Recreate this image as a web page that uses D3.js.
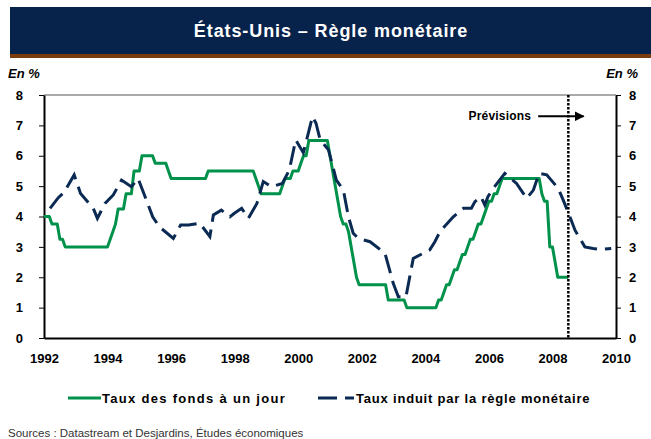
<!DOCTYPE html>
<html>
<head>
<meta charset="utf-8">
<script src="https://cdn.jsdelivr.net/npm/d3@7"></script>
<style>
body { margin: 0; background: #fff; }
svg { display: block; font-family: "Liberation Sans", Arial, sans-serif; }
</style>
</head>
<body>
<script>
//Taux des fonds fédéraux, valeurs mensuelles (janvier à décembre)
var annees = [1992, 1993, 1994, 1995, 1996, 1997, 1998, 1999, 2000,
              2001, 2002, 2003, 2004, 2005, 2006, 2007, 2008];
var tauxFonds = [
    [4, 4, 4, 3.75, 3.75, 3.75, 3.25, 3.25, 3, 3, 3, 3],
    [3, 3, 3, 3, 3, 3, 3, 3, 3, 3, 3, 3],
    [3, 3.25, 3.5, 3.75, 4.25, 4.25, 4.25, 4.75, 4.75, 4.75, 5.5, 5.5],
    [5.5, 6, 6, 6, 6, 6, 5.75, 5.75, 5.75, 5.75, 5.75, 5.5],
    [5.25, 5.25, 5.25, 5.25, 5.25, 5.25, 5.25, 5.25, 5.25, 5.25, 5.25, 5.25],
    [5.25, 5.25, 5.5, 5.5, 5.5, 5.5, 5.5, 5.5, 5.5, 5.5, 5.5, 5.5],
    [5.5, 5.5, 5.5, 5.5, 5.5, 5.5, 5.5, 5.5, 5.25, 5, 4.75, 4.75],
    [4.75, 4.75, 4.75, 4.75, 4.75, 4.75, 5, 5.25, 5.25, 5.25, 5.5, 5.5],
    [5.5, 5.75, 6, 6, 6.5, 6.5, 6.5, 6.5, 6.5, 6.5, 6.5, 6.5],
    [6, 5.5, 5, 4.5, 4, 3.75, 3.75, 3.5, 3, 2.5, 2, 1.75],
    [1.75, 1.75, 1.75, 1.75, 1.75, 1.75, 1.75, 1.75, 1.75, 1.75, 1.25, 1.25],
    [1.25, 1.25, 1.25, 1.25, 1.25, 1, 1, 1, 1, 1, 1, 1],
    [1, 1, 1, 1, 1, 1.25, 1.25, 1.5, 1.75, 1.75, 2, 2.25],
    [2.25, 2.5, 2.75, 2.75, 3, 3.25, 3.25, 3.5, 3.75, 3.75, 4, 4.25],
    [4.5, 4.5, 4.75, 4.75, 5, 5.25, 5.25, 5.25, 5.25, 5.25, 5.25, 5.25],
    [5.25, 5.25, 5.25, 5.25, 5.25, 5.25, 5.25, 5.25, 4.75, 4.5, 4.5, 3],
    [3, 2.5, 2, 2, 2, 2, 2]
];

//Taux induit par la règle monétaire (date en année décimale)
var regleDates = [1992.19, 1992.45, 1992.62, 1992.95, 1993.15, 1993.55, 1993.68, 1993.92,
    1994.18, 1994.44, 1994.75, 1994.96, 1995.2, 1995.42, 1995.63, 1996.07, 1996.3, 1996.55,
    1996.9, 1997.22, 1997.33, 1997.58, 1997.85, 1997.98, 1998.22, 1998.43, 1998.7, 1998.9,
    1999.16, 1999.5, 1999.72, 1999.92, 2000.16, 2000.27, 2000.45, 2000.56, 2000.69, 2000.95,
    2001.2, 2001.42, 2001.58, 2001.73, 2001.89, 2002.26, 2002.73, 2002.99, 2003.15, 2003.39,
    2003.62, 2004.14, 2004.3, 2004.46, 2004.88, 2005.2, 2005.45, 2005.56, 2005.75, 2005.87,
    2005.97, 2006.14, 2006.5, 2006.87, 2007.19, 2007.4, 2007.58, 2007.82, 2008.18, 2008.34,
    2008.55, 2008.71, 2009.02, 2009.28, 2009.5, 2009.85];
var regleValeurs = [4.27, 4.62, 4.78, 5.37, 4.76, 4.27, 3.94, 4.43,
    4.71, 5.2, 4.98, 5.25, 4.6, 3.99, 3.66, 3.28, 3.72, 3.72,
    3.78, 3.34, 4.05, 4.21, 3.99, 4.1, 4.27, 3.94, 4.43, 5.15,
    4.98, 5.09, 5.53, 6.52, 6.1, 6.55, 7.29, 7.07, 6.52, 6.2,
    5.2, 4.87, 3.99, 3.45, 3.28, 3.17, 2.79, 1.8, 1.36, 1.36,
    2.62, 2.9, 3.17, 3.5, 3.99, 4.27, 4.27, 4.49, 4.65, 4.38,
    4.65, 4.93, 5.42, 5.09, 4.6, 4.87, 5.42, 5.37, 4.93, 4.54,
    3.99, 3.55, 3, 2.95, 2.92, 2.95];

var ticksX = [1992, 1994, 1996, 1998, 2000, 2002, 2004, 2006, 2008, 2010];
var ticksY = [0, 1, 2, 3, 4, 5, 6, 7, 8];
var debutPrevisions = 2008.5;

var larg = 651;
var haut = 439;
var vert = "#00924a";
var marine = "#0b2a53";

var svg = d3.select("body")
    .append("svg")
    .attr("width", larg)
    .attr("height", haut);

//Bandeau du titre
svg.append("rect").attr("x", 10).attr("y", 7).attr("width", larg - 10).attr("height", 47)
    .attr("fill", "#08234b");
svg.append("rect").attr("x", 10).attr("y", 54).attr("width", larg - 10).attr("height", 4)
    .attr("fill", "#7b3d0e");
svg.append("text")
    .attr("x", 331).attr("y", 37)
    .attr("text-anchor", "middle")
    .attr("fill", "white")
    .attr("font-size", "18px")
    .attr("font-weight", "bold")
    .attr("letter-spacing", "0.9px")
    .text("États-Unis – Règle monétaire");

//Echelles
var x = d3.scaleLinear().domain([1992, 2010]).range([44, 616]);
var y = d3.scaleLinear().domain([0, 8]).range([338, 95]);

//Cadre du haut
svg.append("line")
    .attr("x1", x(1992)).attr("x2", x(2010))
    .attr("y1", y(8)).attr("y2", y(8))
    .attr("stroke", "#555").attr("stroke-width", 1);

//Axes
var axeG = svg.append("g").attr("transform", "translate(" + x(1992) + ",0)")
    .call(d3.axisLeft(y).tickValues(ticksY).tickSize(5).tickSizeOuter(0).tickPadding(16));
var axeD = svg.append("g").attr("transform", "translate(" + x(2010) + ",0)")
    .call(d3.axisRight(y).tickValues(ticksY).tickSize(5).tickSizeOuter(0).tickPadding(8));
var axeB = svg.append("g").attr("transform", "translate(0," + y(0) + ")")
    .call(d3.axisBottom(x).tickValues(ticksX).tickFormat(d3.format("d"))
        .tickSize(0).tickSizeOuter(0).tickPadding(16));

[axeG, axeD, axeB].forEach(function(a) {
    a.select(".domain").attr("stroke", "#000").attr("stroke-width", 2);
    a.selectAll(".tick line").attr("stroke", "#000").attr("stroke-width", 1);
    a.selectAll("text")
        .attr("font-family", "'Liberation Sans', Arial, sans-serif")
        .attr("font-size", "13px")
        .attr("font-weight", "bold")
        .attr("fill", "#000");
});

//Unités
svg.append("text").attr("x", 8).attr("y", 78)
    .attr("font-size", "13px").attr("font-weight", "bold").attr("font-style", "italic")
    .text("En %");
svg.append("text").attr("x", 638).attr("y", 78).attr("text-anchor", "end")
    .attr("font-size", "13px").attr("font-weight", "bold").attr("font-style", "italic")
    .text("En %");

//Points mensuels du taux des fonds
var fonds = [];
annees.forEach(function(an, i) {
    tauxFonds[i].forEach(function(v, m) {
        fonds.push({ t: an + m / 12, v: v });
    });
});
var regle = regleDates.map(function(t, i) {
    return { t: t, v: regleValeurs[i] };
});

var ligne = d3.line()
    .x(function(d) { return x(d.t); })
    .y(function(d) { return y(d.v); });

svg.append("path")
    .datum(fonds)
    .attr("d", ligne)
    .attr("fill", "none")
    .attr("stroke", vert)
    .attr("stroke-width", 3)
    .attr("stroke-linejoin", "round");

svg.append("path")
    .datum(regle)
    .attr("d", ligne)
    .attr("fill", "none")
    .attr("stroke", marine)
    .attr("stroke-width", 3)
    .attr("stroke-dasharray", "19,8");

//Ligne des prévisions
svg.append("line")
    .attr("x1", x(debutPrevisions)).attr("x2", x(debutPrevisions))
    .attr("y1", y(8)).attr("y2", y(0))
    .attr("stroke", "#000").attr("stroke-width", 2.5)
    .attr("stroke-dasharray", "2.5,1.5");

svg.append("defs").append("marker")
    .attr("id", "fleche")
    .attr("viewBox", "0 0 10 10")
    .attr("refX", 9).attr("refY", 5)
    .attr("markerWidth", 5).attr("markerHeight", 5)
    .attr("orient", "auto")
    .append("path").attr("d", "M0,0L10,5L0,10Z").attr("fill", "#000");

svg.append("line")
    .attr("x1", x(2007.55)).attr("x2", x(2008.98))
    .attr("y1", y(7.3)).attr("y2", y(7.3))
    .attr("stroke", "#000").attr("stroke-width", 2)
    .attr("marker-end", "url(#fleche)");
svg.append("text")
    .attr("x", x(2007.55) - 7).attr("y", y(7.3) + 4)
    .attr("text-anchor", "end")
    .attr("font-size", "12px").attr("font-weight", "bold")
    .attr("letter-spacing", "0.2px")
    .text("Prévisions");

//Légende
var leg = svg.append("g").attr("font-size", "13px").attr("font-weight", "bold");
leg.append("line").attr("x1", 68).attr("x2", 101).attr("y1", 398).attr("y2", 398)
    .attr("stroke", vert).attr("stroke-width", 3);
leg.append("text").attr("x", 102).attr("y", 403).attr("letter-spacing", "1.3px")
    .text("Taux des fonds à un jour");
leg.append("line").attr("x1", 318).attr("x2", 354).attr("y1", 398).attr("y2", 398)
    .attr("stroke", marine).attr("stroke-width", 3).attr("stroke-dasharray", "19,8");
leg.append("text").attr("x", 356).attr("y", 403).attr("letter-spacing", "0.8px")
    .text("Taux induit par la règle monétaire");

//Sources
svg.append("text").attr("x", 8).attr("y", 437)
    .attr("font-size", "11.5px").attr("fill", "#333")
    .text("Sources : Datastream et Desjardins, Études économiques");
</script>
</body>
</html>
